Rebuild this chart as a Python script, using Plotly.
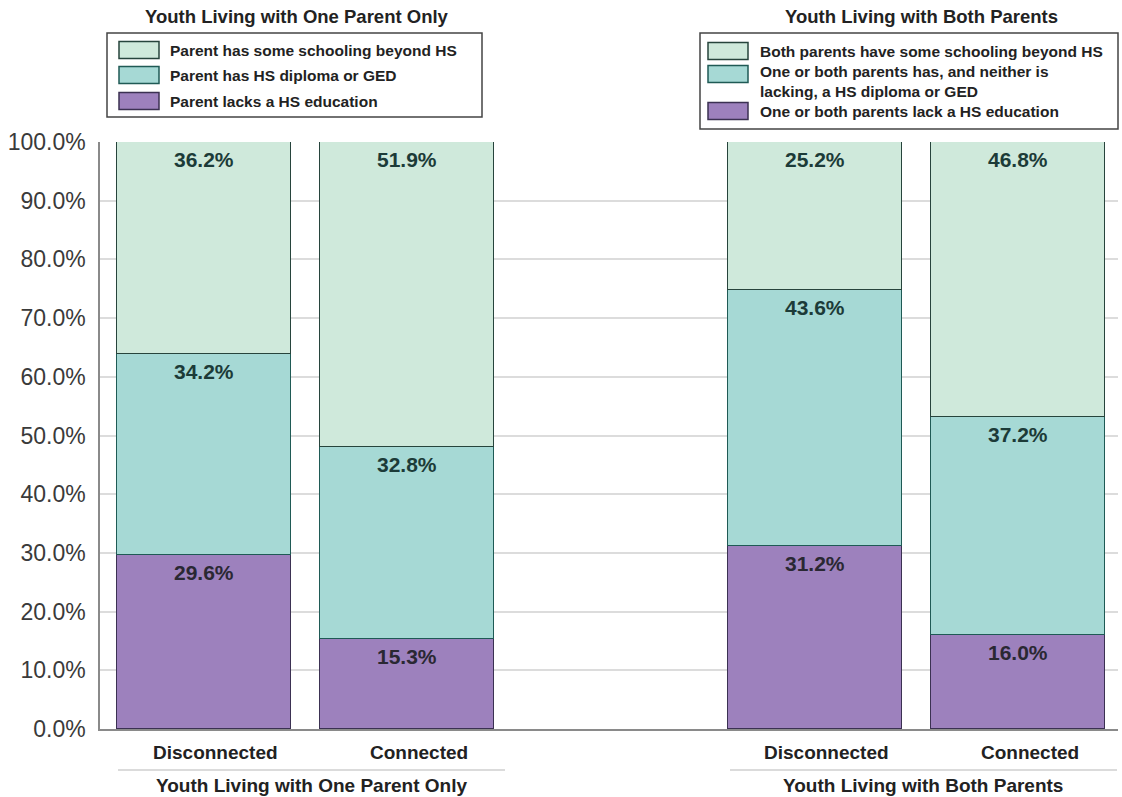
import plotly.graph_objects as go

# ---- data ----
categories = ["Disconnected", "Connected", "Disconnected", "Connected"]
x_pos = [0, 1, 3, 4]
groups = ["Youth Living with One Parent Only", "Youth Living with Both Parents"]

one_lack = [29.6, 15.3]
one_hs = [34.2, 32.8]
one_beyond = [36.2, 51.9]

both_lack = [31.2, 16.0]
both_hs = [43.6, 37.2]
both_beyond = [25.2, 46.8]

names_one = ["Parent lacks a HS education", "Parent has HS diploma or GED",
             "Parent has some schooling beyond HS"]
names_both = ["One or both parents lack a HS education",
              "One or both parents has, and neither is<br>lacking, a HS diploma or GED",
              "Both parents have some schooling beyond HS"]

y_ticks = [0, 10, 20, 30, 40, 50, 60, 70, 80, 90, 100]

# ---- styles ----
fills = ["#9d81bd", "#a6d9d5", "#cfe9db"]
edges = ["#3b3152", "#1f5a55", "#27443c"]
label_colors = ["#2a2833", "#1c3b38", "#1c3b38"]
FONT = "Liberation Sans, Arial, sans-serif"

W, H = 1122, 797
L, R, T, B = 100, 4, 142, 68
PW, PH = W - L - R, H - T - B


def px(xp):
    return (xp - L) / PW


def py(yp):
    return (H - B - yp) / PH


fig = go.Figure()

series_one = [one_lack, one_hs, one_beyond]
series_both = [both_lack, both_hs, both_beyond]

for i in range(3):
    fig.add_trace(go.Bar(
        x=x_pos[:2], y=series_one[i], name=names_one[i], width=0.855,
        marker=dict(color=fills[i], line=dict(color=edges[i], width=1.5)),
        showlegend=False, hoverinfo="skip"))
for i in range(3):
    fig.add_trace(go.Bar(
        x=x_pos[2:], y=series_both[i], name=names_both[i], width=0.855,
        marker=dict(color=fills[i], line=dict(color=edges[i], width=1.5)),
        showlegend=False, hoverinfo="skip"))

annotations = []
shapes = []
# value labels at top inside each segment
for xs, series in [(x_pos[:2], series_one), (x_pos[2:], series_both)]:
    for j, xv in enumerate(xs):
        cum = 0
        for i in range(3):
            cum += series[i][j]
            annotations.append(dict(
                x=xv, y=cum, xref="x", yref="y", text=f"{series[i][j]:.1f}%",
                showarrow=False, yanchor="top", yshift=-4,
                font=dict(family=FONT, size=21, color=label_colors[i], weight="bold")))

# category labels (slightly right of bar centres as in the original)
for xv, c in zip(x_pos, categories):
    annotations.append(dict(x=xv, y=py(752), xref="x", yref="paper", text=c, xshift=12,
                            showarrow=False, xanchor="center", yanchor="middle",
                            font=dict(family=FONT, size=19, color="#222", weight="bold")))

# titles above legends
title_font = dict(family=FONT, size=18.5, color="#222", weight="bold")
annotations.append(dict(x=px(297), y=py(16), xref="paper", yref="paper", text=groups[0],
                        showarrow=False, xanchor="center", yanchor="middle", font=title_font))
annotations.append(dict(x=px(921), y=py(16), xref="paper", yref="paper", text=groups[1],
                        showarrow=False, xanchor="center", yanchor="middle", font=title_font))
# group labels below
grp_font = dict(family=FONT, size=19, color="#222", weight="bold")
annotations.append(dict(x=px(311), y=py(785), xref="paper", yref="paper", text=groups[0],
                        showarrow=False, xanchor="center", yanchor="middle", font=grp_font))
annotations.append(dict(x=px(923), y=py(785), xref="paper", yref="paper", text=groups[1],
                        showarrow=False, xanchor="center", yanchor="middle", font=grp_font))

shapes += [
    dict(type="line", xref="paper", yref="paper", x0=px(118), x1=px(505), y0=py(770), y1=py(770),
         line=dict(color="#cfcfcf", width=1.5)),
    dict(type="line", xref="paper", yref="paper", x0=px(730), x1=px(1117), y0=py(770), y1=py(770),
         line=dict(color="#cfcfcf", width=1.5)),
]

# ---- custom legends (wide swatches as in the original) ----
leg_font = dict(family=FONT, size=15.5, color="#222", weight="bold")


def add_legend(box, sw_x, text_x, entries):
    x0, y0, x1, y1 = box
    shapes.append(dict(type="rect", xref="paper", yref="paper", x0=px(x0), x1=px(x1),
                       y0=py(y1), y1=py(y0), line=dict(color="#444", width=1.5),
                       fillcolor="white", layer="above"))
    for idx, text, sw_y, txt_y in entries:
        shapes.append(dict(type="rect", xref="paper", yref="paper",
                           x0=px(sw_x), x1=px(sw_x + 40), y0=py(sw_y + 8.5), y1=py(sw_y - 8.5),
                           fillcolor=fills[idx], line=dict(color=edges[idx], width=1.5),
                           layer="above"))
        annotations.append(dict(x=px(text_x), y=py(txt_y), xref="paper", yref="paper",
                                text=text, showarrow=False, xanchor="left", yanchor="middle",
                                align="left", font=leg_font))


add_legend((107, 33, 482, 117), 119, 168,
           [(2, names_one[2], 50, 50), (1, names_one[1], 75, 75), (0, names_one[0], 101, 101)])
add_legend((700, 33, 1118, 129), 708, 758,
           [(2, names_both[2], 51, 51), (1, names_both[1], 74, 82), (0, names_both[0], 111, 112)])

fig.update_layout(
    width=W, height=H,
    margin=dict(l=L, r=R, t=T, b=B),
    paper_bgcolor="white", plot_bgcolor="white",
    barmode="stack", bargap=0,
    showlegend=False,
    xaxis=dict(range=[-0.51, 4.49], tickmode="array", tickvals=x_pos, showticklabels=False,
               showgrid=False, zeroline=False, showline=True, linecolor="#8a8a8a", linewidth=1.5,
               ticks="", fixedrange=True),
    yaxis=dict(range=[0, 100], tickmode="array", tickvals=y_ticks,
               ticktext=[f"{v:.1f}%" for v in y_ticks],
               showgrid=True, gridcolor="#dcdcdc", gridwidth=1.5, zeroline=False,
               showline=True, linecolor="#8a8a8a", linewidth=1.5, ticks="",
               tickfont=dict(family=FONT, size=23, color="#3a3a3a"), ticklabelstandoff=8,
               fixedrange=True),
    annotations=annotations,
    shapes=shapes,
)

fig.write_html("out.html", config={"displayModeBar": False},
               post_script="document.body.style.margin='0';document.body.style.overflow='hidden';")
